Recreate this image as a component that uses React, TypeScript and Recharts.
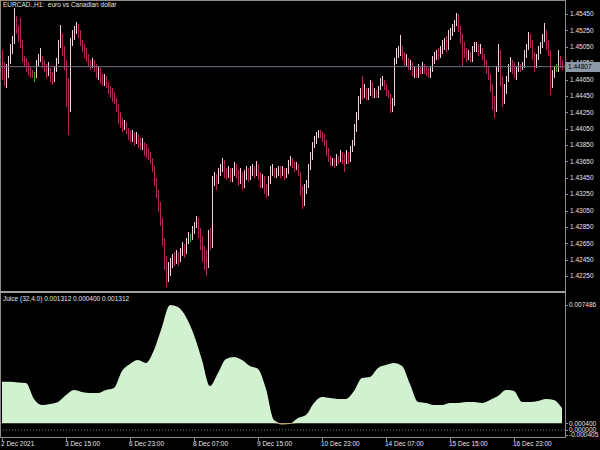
import React from "react";
import { Area, Bar, ComposedChart, ReferenceLine, XAxis, YAxis } from "recharts";

const FONT = "'Liberation Sans', Arial, sans-serif";
const TEXT = "#e2e2e2";
const FRAME = "#8c8c8c";
const BULL = "#f2d2d6";
const BEAR = "#b3245e";
const DOJI = "#2fae2f";

// EURCAD H1, one entry per bar; open of a bar is the previous close.
const firstOpen = 1.4492;
const closes = [
  1.4479, 1.4469, 1.4474, 1.4489, 1.4501, 1.4513, 1.4533, 1.4528, 1.4516, 1.4508,
  1.4491, 1.4486, 1.4481, 1.4477, 1.4474, 1.4472, 1.4472, 1.4484, 1.4491, 1.4492,
  1.4486, 1.4479, 1.4474, 1.4477, 1.4469, 1.4464, 1.4477, 1.4486, 1.4506, 1.4516,
  1.4501, 1.4486, 1.4452, 1.443, 1.4508, 1.4518, 1.4525, 1.453, 1.4523, 1.4513,
  1.4506, 1.4499, 1.4494, 1.4486, 1.4484, 1.4486, 1.4479, 1.4474, 1.4477, 1.4467,
  1.4464, 1.4467, 1.446, 1.4455, 1.445, 1.4445, 1.444, 1.4433, 1.442, 1.4413,
  1.4408, 1.4411, 1.4403, 1.4398, 1.4394, 1.4398, 1.4391, 1.4396, 1.4389, 1.4384,
  1.4386, 1.4381, 1.4376, 1.4372, 1.4367, 1.4357, 1.4342, 1.4328, 1.4313, 1.4293,
  1.4269, 1.4242, 1.4225, 1.4235, 1.424, 1.4247, 1.4242, 1.4249, 1.4245, 1.4254,
  1.4259, 1.4257, 1.4267, 1.4271, 1.4271, 1.4279, 1.4286, 1.4293, 1.4279, 1.4269,
  1.4254, 1.4242, 1.4237, 1.4274, 1.4264, 1.4342, 1.4345, 1.434, 1.4352, 1.4357,
  1.4364, 1.4352, 1.4347, 1.4354, 1.4342, 1.4352, 1.4359, 1.435, 1.4342, 1.4347,
  1.4337, 1.4347, 1.4354, 1.4345, 1.4352, 1.4357, 1.435, 1.4359, 1.4347, 1.4337,
  1.4342, 1.433, 1.4325, 1.434, 1.435, 1.4354, 1.4347, 1.4352, 1.4357, 1.435,
  1.4354, 1.4347, 1.4352, 1.4362, 1.4367, 1.4362, 1.4357, 1.4359, 1.4352, 1.433,
  1.4313, 1.433, 1.4337, 1.4357, 1.4369, 1.4384, 1.4391, 1.4396, 1.4401, 1.4398,
  1.4394, 1.4389, 1.4379, 1.4369, 1.4364, 1.4367, 1.4362, 1.4369, 1.4367, 1.4374,
  1.4369, 1.4364, 1.4372, 1.4367, 1.4379, 1.4386, 1.4403, 1.4418, 1.4438, 1.445,
  1.4445, 1.4452, 1.4442, 1.445, 1.446, 1.4445, 1.445, 1.4445, 1.4455, 1.4462,
  1.4464, 1.4457, 1.445, 1.4445, 1.443, 1.4435, 1.4486, 1.4496, 1.4499, 1.4503,
  1.4494, 1.4486, 1.4491, 1.4481, 1.4484, 1.4474, 1.4477, 1.4469, 1.4479, 1.4474,
  1.4481, 1.4477, 1.4474, 1.4469, 1.4477, 1.4486, 1.4491, 1.4499, 1.4494, 1.4501,
  1.4506, 1.4511, 1.4503, 1.4516, 1.4521, 1.4525, 1.4533, 1.4543, 1.4528, 1.4518,
  1.4508, 1.4499, 1.4494, 1.4496, 1.4489, 1.4501, 1.4506, 1.4508, 1.4501, 1.4503,
  1.4494, 1.4486, 1.4477, 1.4469, 1.4457, 1.4435, 1.443, 1.4477, 1.4499, 1.4464,
  1.444, 1.445, 1.4464, 1.4477, 1.4486, 1.4481, 1.4472, 1.4477, 1.4481, 1.4477,
  1.4481, 1.4494, 1.4503, 1.4516, 1.4508, 1.4494, 1.4481, 1.4491, 1.4499, 1.4506,
  1.4513, 1.4518, 1.4508, 1.4499, 1.446, 1.4469, 1.4477, 1.4477, 1.4489, 1.4484, 1.44807,
];
const highs = [
  1.4501, 1.4486, 1.4484, 1.4494, 1.4508, 1.4518, 1.4552, 1.4543, 1.453, 1.454,
  1.4513, 1.4494, 1.4491, 1.4486, 1.4481, 1.4477, 1.4474, 1.4489, 1.4496, 1.4503,
  1.4494, 1.4489, 1.4484, 1.4486, 1.4479, 1.4474, 1.4481, 1.4491, 1.4513, 1.4532,
  1.4521, 1.4506, 1.4489, 1.4467, 1.4516, 1.4525, 1.453, 1.4535, 1.4533, 1.4525,
  1.4513, 1.4508, 1.4503, 1.4496, 1.4489, 1.4491, 1.4489, 1.4484, 1.4481, 1.4479,
  1.4472, 1.4472, 1.4469, 1.4462, 1.4457, 1.4455, 1.445, 1.4442, 1.4435, 1.4425,
  1.4418, 1.4416, 1.4413, 1.4406, 1.4403, 1.4403, 1.4401, 1.4401, 1.4398, 1.4394,
  1.4394, 1.4389, 1.4386, 1.4381, 1.4376, 1.4369, 1.4359, 1.4345, 1.433, 1.4315,
  1.4296, 1.4271, 1.4249, 1.4242, 1.4247, 1.4252, 1.4254, 1.4257, 1.4254, 1.4259,
  1.4267, 1.4264, 1.4271, 1.4279, 1.4276, 1.4286, 1.4291, 1.4298, 1.4296, 1.4284,
  1.4274, 1.4262, 1.4257, 1.4281, 1.4284, 1.4347, 1.4352, 1.435, 1.4357, 1.4362,
  1.4369, 1.4367, 1.4357, 1.4359, 1.4357, 1.4357, 1.4364, 1.4362, 1.4354, 1.4357,
  1.4352, 1.4354, 1.4359, 1.4357, 1.4359, 1.4362, 1.4359, 1.4365, 1.4362, 1.4352,
  1.435, 1.4347, 1.4337, 1.4347, 1.4359, 1.4362, 1.4357, 1.4357, 1.4359, 1.4359,
  1.4359, 1.4357, 1.4357, 1.4367, 1.4372, 1.4369, 1.4364, 1.4364, 1.4362, 1.4352,
  1.4335, 1.4337, 1.4342, 1.4362, 1.4376, 1.4389, 1.4396, 1.4401, 1.4403, 1.4403,
  1.4401, 1.4398, 1.4391, 1.4381, 1.4372, 1.4369, 1.4369, 1.4374, 1.4372, 1.4379,
  1.4376, 1.4374, 1.4379, 1.4376, 1.4384, 1.4391, 1.4411, 1.4425, 1.4445, 1.4455,
  1.4469, 1.446, 1.4455, 1.4455, 1.4464, 1.4462, 1.4455, 1.4452, 1.4457, 1.4467,
  1.4469, 1.4464, 1.446, 1.4452, 1.4447, 1.4442, 1.4491, 1.4503, 1.4506, 1.4519,
  1.4506, 1.4499, 1.4496, 1.4491, 1.4489, 1.4486, 1.4481, 1.4479, 1.4484, 1.4481,
  1.4486, 1.4484, 1.4481, 1.4479, 1.4481, 1.4494, 1.4499, 1.4501, 1.4503, 1.4506,
  1.4513, 1.4516, 1.4518, 1.4525, 1.4528, 1.4533, 1.4538, 1.4546, 1.4545, 1.453,
  1.4521, 1.4511, 1.4503, 1.4501, 1.4499, 1.4506, 1.4511, 1.4511, 1.4508, 1.4508,
  1.4503, 1.4496, 1.4489, 1.4481, 1.4472, 1.446, 1.4445, 1.4481, 1.4508, 1.4501,
  1.4469, 1.446, 1.4469, 1.4484, 1.4492, 1.4489, 1.4486, 1.4481, 1.4486, 1.4484,
  1.4486, 1.4501, 1.4508, 1.4523, 1.4521, 1.4513, 1.4499, 1.4496, 1.4506, 1.4511,
  1.4521, 1.4534, 1.4525, 1.4513, 1.4501, 1.4477, 1.4481, 1.4484, 1.4501, 1.4494, 1.4489,
];
const lows = [
  1.4464, 1.4457, 1.4455, 1.4467, 1.4484, 1.4496, 1.4508, 1.4521, 1.4511, 1.4503,
  1.4486, 1.4481, 1.4474, 1.4469, 1.4467, 1.4467, 1.4462, 1.4467, 1.4481, 1.4486,
  1.4479, 1.4474, 1.4467, 1.4469, 1.4462, 1.4458, 1.4462, 1.4474, 1.4484, 1.4503,
  1.4494, 1.4477, 1.4431, 1.4397, 1.4425, 1.4506, 1.4513, 1.4521, 1.4516, 1.4506,
  1.4499, 1.4491, 1.4486, 1.4481, 1.4477, 1.4479, 1.4474, 1.4467, 1.4464, 1.446,
  1.4457, 1.4457, 1.4455, 1.4447, 1.4442, 1.4438, 1.4435, 1.4425, 1.4411, 1.4406,
  1.4401, 1.4403, 1.4398, 1.4391, 1.4389, 1.4389, 1.4384, 1.4386, 1.4381, 1.4379,
  1.4379, 1.4372, 1.4369, 1.4367, 1.4362, 1.4352, 1.4335, 1.432, 1.4303, 1.4286,
  1.4262, 1.4232, 1.4212, 1.4218, 1.4225, 1.4235, 1.4237, 1.424, 1.4237, 1.4242,
  1.4249, 1.4247, 1.4252, 1.4264, 1.4267, 1.4269, 1.4276, 1.4284, 1.4271, 1.4257,
  1.4242, 1.4232, 1.4225, 1.4235, 1.4257, 1.4259, 1.4335, 1.433, 1.4337, 1.4347,
  1.4352, 1.4345, 1.4342, 1.4345, 1.434, 1.434, 1.4347, 1.4345, 1.4335, 1.4337,
  1.433, 1.4333, 1.4342, 1.434, 1.4342, 1.4347, 1.4345, 1.4347, 1.4342, 1.4333,
  1.4333, 1.4325, 1.432, 1.4323, 1.4337, 1.4347, 1.4345, 1.4345, 1.4347, 1.4345,
  1.4347, 1.4342, 1.4345, 1.435, 1.4359, 1.4357, 1.4352, 1.4354, 1.4347, 1.4323,
  1.4307, 1.4311, 1.4325, 1.4333, 1.4354, 1.4367, 1.4381, 1.4386, 1.4394, 1.4394,
  1.4389, 1.4384, 1.4372, 1.4364, 1.4359, 1.4359, 1.4357, 1.4359, 1.4362, 1.4364,
  1.4362, 1.4352, 1.4362, 1.4362, 1.4364, 1.4376, 1.4384, 1.4401, 1.4416, 1.4435,
  1.444, 1.4442, 1.444, 1.444, 1.4445, 1.4442, 1.4442, 1.4442, 1.4442, 1.4452,
  1.4457, 1.4452, 1.4445, 1.4442, 1.4424, 1.4425, 1.4433, 1.4484, 1.4491, 1.4494,
  1.4489, 1.4481, 1.4481, 1.4477, 1.4477, 1.4469, 1.4467, 1.4467, 1.4467, 1.4472,
  1.4472, 1.4472, 1.4469, 1.4467, 1.4467, 1.4474, 1.4484, 1.4489, 1.4489, 1.4491,
  1.4496, 1.4501, 1.4499, 1.4501, 1.4513, 1.4518, 1.4523, 1.453, 1.4523, 1.4508,
  1.4481, 1.4491, 1.4486, 1.4489, 1.4486, 1.4486, 1.4499, 1.4499, 1.4494, 1.4496,
  1.4489, 1.4481, 1.4472, 1.4464, 1.445, 1.4428, 1.4418, 1.4425, 1.4474, 1.4457,
  1.4431, 1.4435, 1.4447, 1.4462, 1.4474, 1.4472, 1.4467, 1.4464, 1.4474, 1.4474,
  1.4477, 1.4479, 1.4491, 1.4501, 1.4503, 1.4489, 1.4474, 1.4479, 1.4489, 1.4496,
  1.4503, 1.4511, 1.4501, 1.4494, 1.4446, 1.4455, 1.4467, 1.4474, 1.4474, 1.4479, 1.4477,
];
const bid = 1.44807;
const priceTicks = [
  1.4545, 1.4525, 1.4505, 1.4485, 1.4465, 1.4445, 1.4425, 1.4405, 1.4385,
  1.4365, 1.4345, 1.4325, 1.4305, 1.4285, 1.4265, 1.4245, 1.4225,
];

const timeTickBars = [0, 32, 64, 96, 128, 160, 192, 224, 256];
const timeLabels = [
  "2 Dec 2021", "3 Dec 15:00", "6 Dec 23:00", "8 Dec 07:00", "9 Dec 15:00",
  "10 Dec 23:00", "14 Dec 07:00", "15 Dec 15:00", "16 Dec 23:00",
];

// Juice(32, 4.0), read every 4th bar
const juiceStep = 4;
const juice = [
  0.00289, 0.00289, 0.00284, 0.00281, 0.00186, 0.0015, 0.00156, 0.00168, 0.00209, 0.00239,
  0.00227, 0.00221, 0.00221, 0.00239, 0.00251, 0.00353, 0.00395, 0.00419, 0.00401, 0.00479,
  0.00617, 0.007486, 0.00736, 0.00677, 0.00569, 0.00419, 0.00263, 0.00341, 0.00425, 0.00437,
  0.00419, 0.00383, 0.00365, 0.00245, 0.0006, 0.00033, 0.00036, 0.00072, 0.0009, 0.00162,
  0.00197, 0.00191, 0.00186, 0.00186, 0.00233, 0.00311, 0.00317, 0.00371, 0.00389, 0.00401,
  0.00383, 0.00275, 0.00168, 0.00162, 0.0015, 0.0015, 0.00162, 0.00162, 0.00168, 0.00168,
  0.00162, 0.0018, 0.00203, 0.00239, 0.00233, 0.00168, 0.00168, 0.00174, 0.00186, 0.0018,
  0.001312,
];
const juiceLevel = 0.0004;
const juiceTicks = [0.007486, 0.0004, 0, -0.000405];

const candles = closes.map((close, i) => ({
  i,
  open: i === 0 ? firstOpen : closes[i - 1],
  close,
  high: highs[i],
  low: lows[i],
}));

const juiceRows = juice.map((v, k) => ({
  i: k * juiceStep,
  up: Math.max(v, juiceLevel),
  down: Math.min(v, juiceLevel),
}));

function Candle(props: any) {
  const { x, y, width, height, payload } = props;
  if (!payload || !(height > 0)) return null;
  const { open, close, high, low } = payload;
  const k = height / (high - low);
  const py = (p: number) => y + (high - p) * k;
  const cx = Math.round(x + width / 2);
  const color = close > open ? BULL : close < open ? BEAR : DOJI;
  const wTop = Math.round(y);
  const wBot = Math.round(y + height);
  const bTop = Math.round(py(Math.max(open, close)));
  const bBot = Math.round(py(Math.min(open, close)));
  return (
    <g>
      <rect x={cx} y={wTop} width={1} height={Math.max(1, wBot - wTop)} fill={color} />
      <rect x={cx} y={bTop} width={1} height={Math.max(1, bBot - bTop)} fill={color} />
    </g>
  );
}

// price scale tick; the bid tick is listed last so its tag sits over the grid label it hides
function PriceTick(props: any) {
  const { x, y, payload } = props;
  const v = payload.value;
  if (v === bid) {
    return (
      <g>
        <rect x={x + 1} y={Math.round(y) - 5} width={34} height={10} fill="#8d99a8" />
        <text x={x + 3} y={y} dy="0.35em" fontSize={6.5} fill="#000">
          {v.toFixed(5)}
        </text>
      </g>
    );
  }
  return (
    <g>
      <rect x={x} y={Math.round(y)} width={3} height={1} fill={FRAME} />
      <text x={x + 5} y={y} dy="0.35em" fontSize={6.5} fill={TEXT}>
        {v.toFixed(5)}
      </text>
    </g>
  );
}

function TimeTick(props: any) {
  const { x, y, payload } = props;
  const label = timeLabels[timeTickBars.indexOf(payload.value)];
  const tx = Math.round(x);
  return (
    <g>
      <rect x={tx} y={y + 1} width={1} height={3} fill={FRAME} />
      <text x={tx - 1} y={y + 7} dy="0.35em" fontSize={6.5} fill={TEXT}>
        {label}
      </text>
    </g>
  );
}

function JuiceTick(props: any) {
  const { x, y, payload } = props;
  // the terminal keeps the extreme labels inside the sub-window
  const ty = Math.min(Math.max(y, 4), 142.5);
  return (
    <g>
      <rect x={x} y={Math.round(ty)} width={3} height={1} fill={FRAME} />
      <text x={x + 4} y={ty} dy="0.35em" fontSize={6.5} fill={TEXT}>
        {payload.value.toFixed(6)}
      </text>
    </g>
  );
}

export default function App() {
  return (
    <div
      style={{
        position: "fixed",
        left: 0,
        top: 0,
        width: 600,
        height: 450,
        background: "#000",
        fontFamily: FONT,
        overflow: "hidden",
      }}
    >
      <div style={{ position: "absolute", left: 0, top: 0 }}>
        <ComposedChart width={600} height={292} data={candles} margin={{ top: 1, right: 0, bottom: 1, left: 1 }}>
          <XAxis type="number" dataKey="i" domain={[-0.5, 281.5]} hide />
          <YAxis
            orientation="right"
            width={35}
            domain={[1.42067, 1.45609]}
            ticks={[...priceTicks, bid]}
            interval={0}
            axisLine={false}
            tickLine={false}
            tickSize={0}
            tickMargin={0}
            tick={<PriceTick />}
          />
          <ReferenceLine y={bid} stroke="#6c7686" />
          <Bar
            dataKey={(d: any) => [d.low, d.high]}
            shape={<Candle />}
            barSize={2}
            isAnimationActive={false}
          />
        </ComposedChart>
      </div>

      <div style={{ position: "absolute", left: 0, top: 292 }}>
        <ComposedChart width={600} height={158} data={juiceRows} margin={{ top: 1, right: 0, bottom: 0, left: 1 }}>
          <XAxis
            type="number"
            dataKey="i"
            domain={[-0.5, 281.5]}
            ticks={timeTickBars}
            interval={0}
            height={13}
            axisLine={false}
            tickLine={false}
            tickSize={0}
            tickMargin={0}
            tick={<TimeTick />}
          />
          <YAxis
            orientation="right"
            width={35}
            domain={[-0.00042, 0.0082]}
            ticks={juiceTicks}
            interval={0}
            axisLine={false}
            tickLine={false}
            tickSize={0}
            tickMargin={0}
            tick={<JuiceTick />}
          />
          <Area
            type="monotone"
            dataKey="up"
            baseValue={juiceLevel}
            stroke="none"
            fill="#d1f1d1"
            fillOpacity={1}
            dot={false}
            activeDot={false}
            isAnimationActive={false}
          />
          <Area
            type="monotone"
            dataKey="down"
            baseValue={juiceLevel}
            stroke="none"
            fill="#f3cf98"
            fillOpacity={1}
            dot={false}
            activeDot={false}
            isAnimationActive={false}
          />
          <ReferenceLine y={0} stroke="#7a7a7a" strokeDasharray="1 2" />
        </ComposedChart>
      </div>

      <div
        style={{
          position: "absolute",
          left: 0,
          top: 0,
          width: 566,
          height: 438,
          boxSizing: "border-box",
          border: `1px solid ${FRAME}`,
        }}
      />
      <div style={{ position: "absolute", left: 0, top: 291, width: 566, height: 2, background: "#a0a0a0" }} />

      <div style={{ position: "absolute", left: 3, top: 1, fontSize: 6.5, lineHeight: "8px", color: TEXT, whiteSpace: "pre" }}>
        EURCAD.,H1:  euro vs Canadian dollar
      </div>
      <div style={{ position: "absolute", left: 3, top: 295, fontSize: 6.5, lineHeight: "8px", color: TEXT, whiteSpace: "pre" }}>
        Juice (32,4.0) 0.001312 0.000400 0.001312
      </div>
    </div>
  );
}
